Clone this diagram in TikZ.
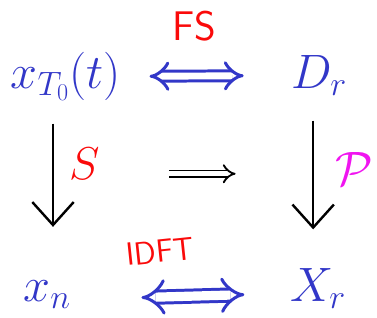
\RequirePackage{fix-cm}
\documentclass[tikz,border=0pt]{standalone}
\usetikzlibrary{arrows.meta}
\definecolor{inkblue}{RGB}{50,55,200}
\definecolor{inkred}{RGB}{250,10,10}
\definecolor{inkpink}{RGB}{240,20,240}

\begin{document}
\begin{tikzpicture}[
  x=0.03cm, y=-0.03cm,
  sig/.style={text=inkblue, font=\fontsize{42}{50}\selectfont, anchor=base, inner sep=1pt},
  lbl/.style={text=inkred, font=\sffamily\fontsize{36}{40}\selectfont},
  eqv/.style={draw=inkblue, line width=2.6pt, double=white, double distance=6pt,
    {Implies[length=18pt,width=30pt]}-{Implies[length=18pt,width=30pt]}},
  down/.style={draw, line width=2.1pt, -{Straight Barb[length=20pt,width=36pt]}},
  imp/.style={draw, line width=1.6pt, double=white, double distance=4pt,
    -{Implies[length=14pt,width=24pt]}},
]

% Signals
\node[sig] (xt) at (67,90)  {$x_{T_0}(t)$};
\node[sig] (Dr) at (325,90) {$D_r$};
\node[sig] (xn) at (48,307) {$x_n$};
\node[sig] (Xr) at (324,307) {$X_r$};

% Transform labels
\node[lbl] (fs) at (198,27) {FS};
\node[lbl, font=\sffamily\fontsize{28}{32}\selectfont, rotate=6] (idft) at (163,256) {IDFT};
\node[text=inkred, font=\fontsize{40}{46}\selectfont] (smp) at (86,167) {$S$};
\node[text=inkpink, font=\fontsize{42}{48}\selectfont] (per) at (361,172) {$\mathcal{P}$};

% Arrows
\draw[eqv, shorten <=0.84cm, shorten >=1.41cm] (xt.east) -- (Dr.west);
\draw[eqv, double distance=8pt, shorten <=2.12cm, shorten >=1.36cm] ([yshift=-0.15cm]xn.east) -- ([yshift=-0.15cm]Xr.west);
\draw[down, shorten <=0.66cm, shorten >=1.6cm] ([xshift=-0.39cm]xt.south) -- ([xshift=-0.39cm]xt.south |- xn.north);
\draw[down, shorten <=0.72cm, shorten >=1.15cm] ([xshift=-0.18cm]Dr.south) -- ([xshift=-0.18cm]Dr.south |- Xr.north);

% Middle implication
\coordinate (impL) at (172,177);
\coordinate (impR) at (240,177);
\draw[imp] (impL) -- (impR);

\useasboundingbox (0,0) rectangle (377,323);
\end{tikzpicture}
\end{document}
